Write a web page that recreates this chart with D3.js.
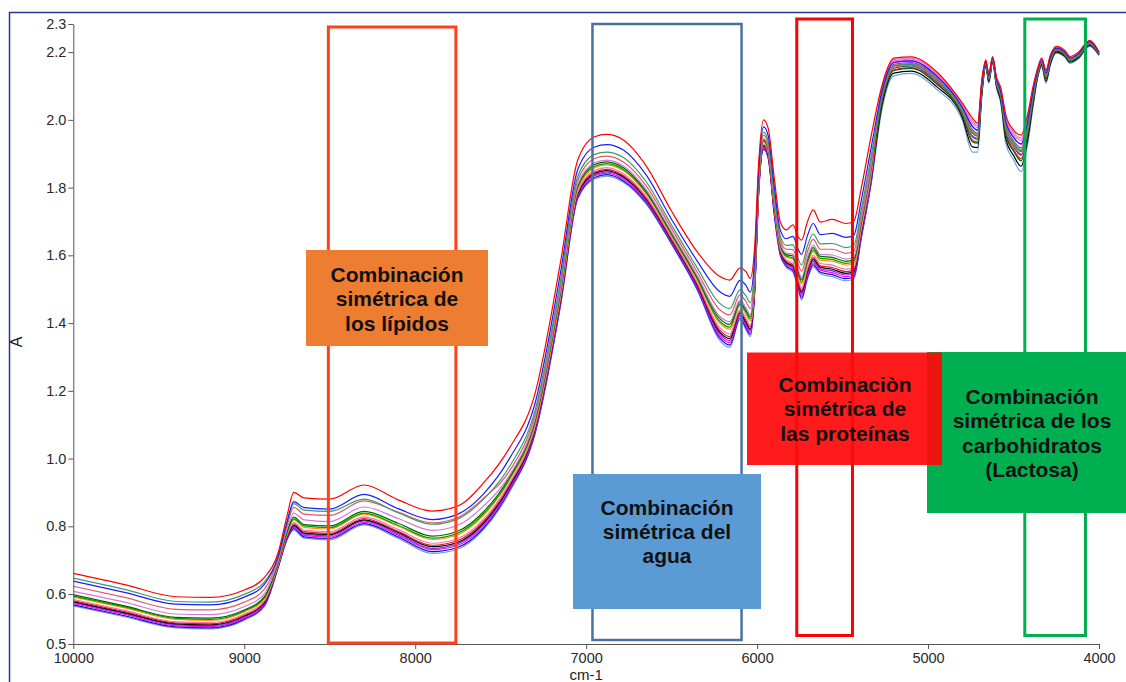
<!DOCTYPE html>
<html>
<head>
<meta charset="utf-8">
<script src="https://d3js.org/d3.v7.min.js"></script>
<style>
  body { margin: 0; background: #ffffff; }
  svg { display: block; font-family: "Liberation Sans", Arial, sans-serif; }
</style>
</head>
<body>
<div id="chart"></div>
<script>
var width = 1126;
var height = 682;

// wavenumber grid (cm-1) shared by every spectrum
var wavenumbers = [10000, 9700, 9400, 9200, 9000, 8880, 8800, 8750, 8710, 8650, 8500, 8300, 8100, 7900, 7750, 7600, 7450, 7300, 7150, 7050, 6950, 6880, 6780, 6650, 6500, 6350, 6220, 6160, 6100, 6065, 6040, 6015, 5990, 5962, 5935, 5900, 5865, 5830, 5790, 5760, 5740, 5705, 5672, 5630, 5560, 5480, 5435, 5390, 5330, 5270, 5200, 5100, 4950, 4800, 4740, 4710, 4685, 4662, 4645, 4622, 4600, 4575, 4545, 4500, 4455, 4420, 4385, 4360, 4335, 4310, 4285, 4250, 4200, 4170, 4120, 4055, 4000];

// absorbance spectra
var specRed = [0.661, 0.628, 0.592, 0.590, 0.612, 0.650, 0.725, 0.830, 0.900, 0.884, 0.880, 0.922, 0.878, 0.845, 0.860, 0.928, 1.030, 1.190, 1.580, 1.880, 1.950, 1.957, 1.940, 1.865, 1.730, 1.610, 1.538, 1.527, 1.562, 1.552, 1.532, 1.620, 1.880, 2.000, 1.975, 1.830, 1.700, 1.675, 1.690, 1.655, 1.645, 1.700, 1.734, 1.698, 1.706, 1.694, 1.700, 1.800, 1.960, 2.100, 2.182, 2.186, 2.142, 2.050, 2.005, 1.990, 2.120, 2.177, 2.137, 2.187, 2.127, 2.095, 2.015, 1.970, 1.955, 2.010, 2.100, 2.150, 2.182, 2.147, 2.190, 2.217, 2.205, 2.187, 2.200, 2.235, 2.201];
var specBlue = [0.638, 0.605, 0.570, 0.568, 0.591, 0.630, 0.714, 0.813, 0.873, 0.855, 0.851, 0.894, 0.852, 0.820, 0.836, 0.896, 0.999, 1.161, 1.549, 1.852, 1.920, 1.927, 1.910, 1.838, 1.706, 1.583, 1.493, 1.479, 1.526, 1.511, 1.491, 1.586, 1.858, 1.979, 1.953, 1.804, 1.676, 1.649, 1.656, 1.618, 1.603, 1.659, 1.694, 1.661, 1.665, 1.653, 1.659, 1.764, 1.926, 2.083, 2.170, 2.174, 2.130, 2.038, 1.981, 1.970, 2.108, 2.172, 2.130, 2.182, 2.119, 2.084, 1.995, 1.949, 1.929, 1.988, 2.086, 2.143, 2.176, 2.138, 2.183, 2.212, 2.200, 2.182, 2.195, 2.231, 2.198];
var specSeaGreen = [0.647, 0.614, 0.578, 0.576, 0.599, 0.637, 0.712, 0.809, 0.867, 0.848, 0.844, 0.880, 0.840, 0.806, 0.822, 0.880, 0.975, 1.140, 1.525, 1.832, 1.898, 1.905, 1.888, 1.818, 1.689, 1.563, 1.459, 1.443, 1.498, 1.480, 1.460, 1.561, 1.842, 1.963, 1.937, 1.784, 1.658, 1.629, 1.631, 1.590, 1.571, 1.629, 1.663, 1.634, 1.635, 1.623, 1.629, 1.737, 1.901, 2.071, 2.160, 2.165, 2.120, 2.029, 1.963, 1.954, 2.099, 2.169, 2.125, 2.179, 2.114, 2.076, 1.979, 1.933, 1.910, 1.972, 2.075, 2.137, 2.172, 2.131, 2.177, 2.209, 2.197, 2.179, 2.192, 2.227, 2.196];
var specRose = [0.623, 0.590, 0.555, 0.553, 0.576, 0.616, 0.707, 0.802, 0.856, 0.836, 0.832, 0.875, 0.842, 0.810, 0.826, 0.883, 0.962, 1.128, 1.512, 1.820, 1.886, 1.893, 1.875, 1.806, 1.679, 1.551, 1.440, 1.424, 1.483, 1.463, 1.443, 1.547, 1.833, 1.954, 1.928, 1.773, 1.648, 1.618, 1.617, 1.574, 1.553, 1.612, 1.647, 1.618, 1.618, 1.606, 1.612, 1.722, 1.887, 2.064, 2.155, 2.161, 2.115, 2.024, 1.953, 1.946, 2.094, 2.167, 2.122, 2.177, 2.110, 2.072, 1.971, 1.924, 1.899, 1.963, 2.069, 2.134, 2.169, 2.127, 2.174, 2.207, 2.195, 2.177, 2.190, 2.226, 2.195];
var specOrchid = [0.608, 0.576, 0.541, 0.539, 0.563, 0.603, 0.700, 0.792, 0.839, 0.819, 0.814, 0.857, 0.823, 0.788, 0.803, 0.860, 0.949, 1.116, 1.499, 1.809, 1.873, 1.881, 1.863, 1.795, 1.669, 1.540, 1.421, 1.404, 1.468, 1.445, 1.425, 1.533, 1.824, 1.945, 1.919, 1.762, 1.638, 1.607, 1.603, 1.559, 1.535, 1.595, 1.630, 1.603, 1.601, 1.589, 1.595, 1.707, 1.873, 2.090, 2.174, 2.179, 2.134, 2.043, 1.990, 1.977, 2.113, 2.174, 2.133, 2.184, 2.122, 2.088, 2.002, 1.957, 1.939, 1.997, 2.091, 2.146, 2.178, 2.141, 2.186, 2.214, 2.202, 2.184, 2.197, 2.232, 2.199];
var specDarkGreen = [0.598, 0.565, 0.531, 0.529, 0.553, 0.594, 0.695, 0.784, 0.827, 0.805, 0.801, 0.844, 0.809, 0.771, 0.786, 0.843, 0.944, 1.111, 1.494, 1.804, 1.868, 1.876, 1.858, 1.790, 1.665, 1.535, 1.414, 1.396, 1.462, 1.438, 1.418, 1.528, 1.821, 1.941, 1.916, 1.757, 1.634, 1.602, 1.598, 1.553, 1.528, 1.588, 1.623, 1.597, 1.594, 1.582, 1.588, 1.701, 1.868, 2.051, 2.146, 2.152, 2.106, 2.015, 1.935, 1.931, 2.085, 2.163, 2.117, 2.173, 2.105, 2.064, 1.956, 1.908, 1.879, 1.947, 2.058, 2.129, 2.165, 2.120, 2.169, 2.203, 2.191, 2.173, 2.186, 2.222, 2.193];
var specGreen = [0.594, 0.562, 0.528, 0.525, 0.550, 0.591, 0.694, 0.781, 0.822, 0.801, 0.796, 0.839, 0.803, 0.765, 0.780, 0.837, 0.939, 1.106, 1.489, 1.800, 1.863, 1.871, 1.853, 1.786, 1.661, 1.531, 1.406, 1.388, 1.456, 1.432, 1.412, 1.522, 1.817, 1.938, 1.912, 1.753, 1.630, 1.598, 1.592, 1.547, 1.521, 1.581, 1.616, 1.591, 1.588, 1.576, 1.581, 1.695, 1.862, 2.069, 2.159, 2.164, 2.119, 2.028, 1.960, 1.952, 2.098, 2.168, 2.124, 2.178, 2.113, 2.075, 1.977, 1.930, 1.906, 1.970, 2.073, 2.137, 2.171, 2.129, 2.177, 2.208, 2.196, 2.178, 2.191, 2.227, 2.196];
var specOrange = [0.591, 0.559, 0.525, 0.522, 0.547, 0.588, 0.692, 0.779, 0.819, 0.797, 0.792, 0.836, 0.800, 0.761, 0.775, 0.832, 0.935, 1.102, 1.485, 1.796, 1.859, 1.867, 1.849, 1.783, 1.658, 1.528, 1.401, 1.382, 1.451, 1.426, 1.406, 1.518, 1.814, 1.935, 1.909, 1.750, 1.627, 1.595, 1.588, 1.542, 1.516, 1.576, 1.611, 1.586, 1.583, 1.571, 1.576, 1.691, 1.858, 2.072, 2.161, 2.166, 2.121, 2.030, 1.965, 1.956, 2.100, 2.169, 2.125, 2.179, 2.114, 2.077, 1.981, 1.935, 1.912, 1.974, 2.076, 2.138, 2.172, 2.131, 2.178, 2.209, 2.197, 2.179, 2.192, 2.228, 2.197];
var specPink = [0.584, 0.552, 0.518, 0.516, 0.541, 0.582, 0.689, 0.774, 0.811, 0.789, 0.784, 0.828, 0.791, 0.750, 0.764, 0.821, 0.926, 1.094, 1.476, 1.788, 1.851, 1.859, 1.840, 1.775, 1.652, 1.520, 1.388, 1.368, 1.440, 1.414, 1.394, 1.508, 1.808, 1.929, 1.903, 1.742, 1.620, 1.587, 1.578, 1.531, 1.503, 1.564, 1.600, 1.576, 1.571, 1.559, 1.564, 1.680, 1.848, 2.094, 2.178, 2.182, 2.138, 2.046, 1.997, 1.983, 2.116, 2.175, 2.135, 2.185, 2.124, 2.091, 2.008, 1.963, 1.946, 2.003, 2.095, 2.148, 2.180, 2.144, 2.188, 2.215, 2.203, 2.185, 2.198, 2.234, 2.200];
var specCrimson = [0.580, 0.548, 0.515, 0.512, 0.537, 0.579, 0.687, 0.771, 0.807, 0.784, 0.779, 0.823, 0.785, 0.744, 0.758, 0.815, 0.921, 1.089, 1.471, 1.783, 1.846, 1.854, 1.835, 1.770, 1.648, 1.515, 1.380, 1.360, 1.434, 1.408, 1.388, 1.502, 1.804, 1.925, 1.899, 1.738, 1.616, 1.583, 1.572, 1.525, 1.496, 1.557, 1.593, 1.569, 1.564, 1.552, 1.557, 1.674, 1.842, 2.055, 2.148, 2.154, 2.108, 2.018, 1.940, 1.935, 2.088, 2.164, 2.118, 2.174, 2.106, 2.066, 1.960, 1.913, 1.885, 1.952, 2.061, 2.131, 2.166, 2.122, 2.171, 2.204, 2.192, 2.174, 2.187, 2.223, 2.194];
var specBlack = [0.577, 0.545, 0.512, 0.509, 0.535, 0.576, 0.686, 0.769, 0.803, 0.780, 0.776, 0.819, 0.782, 0.740, 0.753, 0.810, 0.917, 1.086, 1.467, 1.780, 1.842, 1.850, 1.831, 1.767, 1.645, 1.512, 1.374, 1.354, 1.430, 1.402, 1.382, 1.498, 1.802, 1.923, 1.897, 1.734, 1.613, 1.579, 1.568, 1.520, 1.491, 1.552, 1.588, 1.565, 1.559, 1.547, 1.552, 1.670, 1.838, 2.041, 2.138, 2.144, 2.098, 2.008, 1.920, 1.918, 2.078, 2.160, 2.112, 2.170, 2.100, 2.057, 1.943, 1.895, 1.863, 1.934, 2.049, 2.125, 2.161, 2.114, 2.165, 2.200, 2.188, 2.170, 2.183, 2.220, 2.192];
var specPurple = [0.575, 0.543, 0.509, 0.506, 0.532, 0.574, 0.685, 0.767, 0.800, 0.777, 0.772, 0.816, 0.778, 0.735, 0.749, 0.806, 0.913, 1.082, 1.463, 1.777, 1.838, 1.846, 1.828, 1.763, 1.642, 1.508, 1.369, 1.348, 1.425, 1.397, 1.377, 1.494, 1.799, 1.920, 1.894, 1.731, 1.610, 1.576, 1.564, 1.516, 1.486, 1.547, 1.583, 1.560, 1.554, 1.542, 1.547, 1.665, 1.834, 2.076, 2.164, 2.169, 2.124, 2.033, 1.970, 1.960, 2.103, 2.170, 2.127, 2.180, 2.116, 2.079, 1.985, 1.939, 1.917, 1.979, 2.079, 2.140, 2.173, 2.133, 2.180, 2.210, 2.198, 2.180, 2.193, 2.229, 2.197];
var specMagenta = [0.572, 0.540, 0.506, 0.504, 0.529, 0.571, 0.683, 0.765, 0.797, 0.773, 0.768, 0.812, 0.774, 0.731, 0.744, 0.801, 0.909, 1.078, 1.459, 1.773, 1.835, 1.843, 1.824, 1.760, 1.639, 1.505, 1.363, 1.342, 1.421, 1.392, 1.372, 1.490, 1.796, 1.917, 1.891, 1.728, 1.607, 1.573, 1.560, 1.511, 1.480, 1.542, 1.578, 1.556, 1.549, 1.537, 1.542, 1.661, 1.830, 2.083, 2.169, 2.174, 2.129, 2.038, 1.980, 1.969, 2.108, 2.172, 2.130, 2.182, 2.119, 2.084, 1.994, 1.948, 1.928, 1.988, 2.085, 2.143, 2.176, 2.137, 2.183, 2.212, 2.200, 2.182, 2.195, 2.231, 2.198];
var specNavy = [0.568, 0.536, 0.503, 0.500, 0.526, 0.568, 0.682, 0.762, 0.793, 0.769, 0.764, 0.808, 0.769, 0.725, 0.738, 0.795, 0.905, 1.074, 1.455, 1.769, 1.830, 1.838, 1.819, 1.756, 1.635, 1.501, 1.357, 1.335, 1.415, 1.386, 1.366, 1.485, 1.793, 1.914, 1.888, 1.724, 1.604, 1.569, 1.555, 1.505, 1.474, 1.536, 1.572, 1.550, 1.543, 1.531, 1.536, 1.655, 1.825, 2.062, 2.153, 2.159, 2.113, 2.023, 1.950, 1.943, 2.093, 2.166, 2.121, 2.176, 2.109, 2.070, 1.968, 1.922, 1.896, 1.961, 2.067, 2.134, 2.168, 2.126, 2.174, 2.206, 2.194, 2.176, 2.189, 2.225, 2.195];
var specLightBlue = [0.565, 0.533, 0.500, 0.497, 0.523, 0.565, 0.680, 0.760, 0.789, 0.765, 0.760, 0.804, 0.765, 0.720, 0.733, 0.790, 0.900, 1.070, 1.450, 1.765, 1.826, 1.834, 1.815, 1.752, 1.632, 1.497, 1.350, 1.328, 1.410, 1.380, 1.360, 1.480, 1.790, 1.911, 1.885, 1.720, 1.600, 1.565, 1.550, 1.500, 1.468, 1.530, 1.566, 1.545, 1.537, 1.525, 1.530, 1.650, 1.820, 2.030, 2.130, 2.137, 2.090, 2.000, 1.905, 1.905, 2.070, 2.157, 2.108, 2.167, 2.095, 2.050, 1.930, 1.882, 1.847, 1.920, 2.040, 2.120, 2.157, 2.108, 2.160, 2.197, 2.185, 2.167, 2.180, 2.217, 2.190];

// drawn bottom first, red last
var spectra = [specLightBlue, specNavy, specMagenta, specPurple, specBlack, specCrimson, specPink, specOrange, specGreen, specDarkGreen, specOrchid, specRose, specSeaGreen, specBlue, specRed];
var spectrumColors = ["#6c9be8", "#1010c8", "#ff00ff", "#8a2be2", "#000000", "#d0202a", "#ff6fb5", "#ff9900", "#00a000", "#006a00", "#d27ad8", "#e05a68", "#3c9a68", "#1c1cff", "#ff0000"];

// axes
var yDomain = [0.4525, 2.283];
var yTickValues = [0.4525, 0.6, 0.8, 1.0, 1.2, 1.4, 1.6, 1.8, 2.0, 2.2, 2.283];
var xTickValues = [10000, 9000, 8000, 7000, 6000, 5000, 4000];

// highlighted spectral regions (cm-1)
var bandFrom = [8508, 6963, 5768, 4434];
var bandTo = [7762, 6091, 5442, 4079];

// callout texts
var calloutLipids = ["Combinación", "simétrica de", "los lípidos"];
var calloutWater = ["Combinación", "simétrica del", "agua"];
var calloutProteins = ["Combinaciòn", "simétrica de", "las proteínas"];
var calloutCarbs = ["Combinación", "simétrica de los", "carbohidratos", "(Lactosa)"];

function draw() {
  var left = 73.3, right = 1099, top = 24, bottom = 644;

  var svg = d3
    .select("#chart")
    .append("svg")
    .attr("width", width)
    .attr("height", height);

  svg.append("rect").attr("width", width).attr("height", height).attr("fill", "#fff");

  // outer frame (left + top edges)
  svg
    .append("path")
    .attr("d", "M9.5," + height + "V12.5H" + width)
    .attr("fill", "none")
    .attr("stroke", "#22398c")
    .attr("stroke-width", 1.5);

  var xScale = d3.scaleLinear().domain([10000, 4000]).range([left, right]);
  var yScale = d3.scaleLinear().domain(yDomain).range([bottom, top]);

  var line = d3
    .line()
    .x(function (d, i) {
      return xScale(wavenumbers[i]);
    })
    .y(function (d) {
      return yScale(d);
    })
    .curve(d3.curveMonotoneX);

  svg
    .append("g")
    .selectAll("path")
    .data(spectra)
    .enter()
    .append("path")
    .attr("d", line)
    .attr("fill", "none")
    .attr("stroke", function (d, i) {
      return spectrumColors[i];
    })
    .attr("stroke-width", 1.2);

  // axes
  var yAxis = d3
    .axisLeft(yScale)
    .tickValues(yTickValues)
    .tickFormat(d3.format(".1f"))
    .tickSize(5)
    .tickSizeOuter(0)
    .tickPadding(2);

  var xAxis = d3
    .axisBottom(xScale)
    .tickValues(xTickValues)
    .tickFormat(d3.format("d"))
    .tickSize(5)
    .tickSizeOuter(0)
    .tickPadding(4);

  var gy = svg
    .append("g")
    .attr("transform", "translate(" + left + ",0)")
    .call(yAxis);

  var gx = svg
    .append("g")
    .attr("transform", "translate(0," + bottom + ")")
    .call(xAxis);

  [gx, gy].forEach(function (g) {
    g.select(".domain").attr("stroke", "#555");
    g.selectAll(".tick line").attr("stroke", "#555");
    g.selectAll(".tick text")
      .attr("fill", "#2a2a2a")
      .attr("font-size", "14.5px")
      .attr("font-family", "'Liberation Sans', Arial, sans-serif");
  });

  svg
    .append("text")
    .attr("text-anchor", "middle")
    .attr("x", (left + right) / 2)
    .attr("y", 680)
    .attr("font-size", "15px")
    .attr("fill", "#222")
    .text("cm-1");

  svg
    .append("text")
    .attr("text-anchor", "middle")
    .attr("transform", "translate(22,342) rotate(-90)")
    .attr("font-size", "16px")
    .attr("fill", "#222")
    .text("A");

  // region outlines
  var bandColors = ["#ff4019", "#4a71a0", "#ff0000", "#00b050"];
  var bandTop = [27, 24, 19, 19];
  var bandBottom = [643, 640, 635.5, 635.5];
  var bandStroke = [3, 2.5, 3, 3];

  svg
    .append("g")
    .selectAll("rect")
    .data(bandFrom)
    .enter()
    .append("rect")
    .attr("x", function (d) {
      return xScale(d);
    })
    .attr("width", function (d, i) {
      return xScale(bandTo[i]) - xScale(d);
    })
    .attr("y", function (d, i) {
      return bandTop[i];
    })
    .attr("height", function (d, i) {
      return bandBottom[i] - bandTop[i];
    })
    .attr("fill", "none")
    .attr("stroke", function (d, i) {
      return bandColors[i];
    })
    .attr("stroke-width", function (d, i) {
      return bandStroke[i];
    });

  // callout boxes
  var boxes = [
    { x: 306, y: 250, w: 182, h: 96, fill: "#ed7d31", op: 1, cx: 397, base: 282, lines: calloutLipids },
    { x: 573, y: 474, w: 188, h: 135, fill: "#5b9bd5", op: 1, cx: 667, base: 514.5, lines: calloutWater },
    { x: 927, y: 352, w: 205, h: 161, fill: "#00b050", op: 1, cx: 1032, base: 404, lines: calloutCarbs },
    { x: 747, y: 352.5, w: 195, h: 112.5, fill: "#ff0a0a", op: 0.93, cx: 845, base: 392, lines: calloutProteins }
  ];

  var box = svg
    .append("g")
    .selectAll("g")
    .data(boxes)
    .enter()
    .append("g");

  box
    .append("rect")
    .attr("x", function (d) { return d.x; })
    .attr("y", function (d) { return d.y; })
    .attr("width", function (d) { return d.w; })
    .attr("height", function (d) { return d.h; })
    .attr("fill", function (d) { return d.fill; })
    .attr("fill-opacity", function (d) { return d.op; });

  box.each(function (d) {
    var g = d3.select(this);
    d.lines.forEach(function (t, i) {
      g.append("text")
        .attr("x", d.cx)
        .attr("y", d.base + i * 24.3)
        .attr("text-anchor", "middle")
        .attr("font-size", "21px")
        .attr("font-weight", "bold")
        .attr("fill", "#111")
        .text(t);
    });
  });
}

draw();
</script>
</body>
</html>
